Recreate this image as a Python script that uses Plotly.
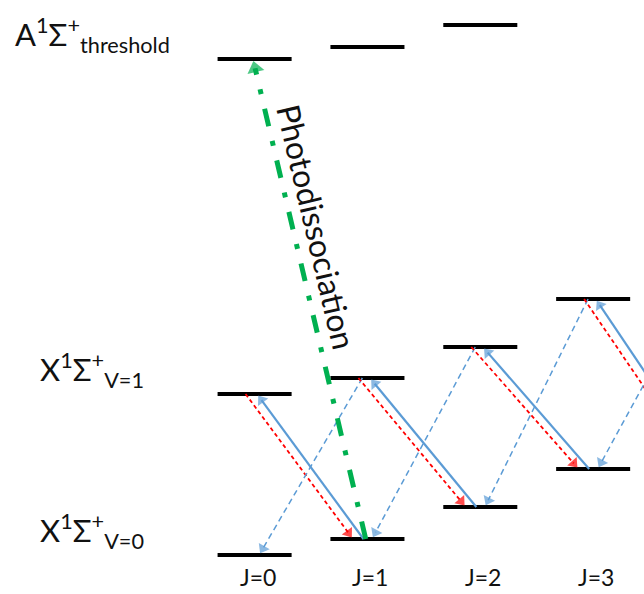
import math
import plotly.graph_objects as go

# ---------------- data ----------------
J_labels = ["J=0", "J=1", "J=2", "J=3"]
J_vals = [0, 1, 2, 3]
E_v0 = [0, 16, 48, 86]          # X1Σ+ v=0 rotational levels (arb. units)
E_v1 = [161, 177, 208, 256]     # X1Σ+ v=1 rotational levels
E_thr = [496, 508, 530]         # A1Σ+ threshold levels (J=0..2)
E_v0_J4 = 98                    # J=4 levels lie outside the view
E_v1_J4 = 275
state_labels = [
    "A<sup>1</sup>Σ<sup>+</sup><sub>threshold</sub>",
    "X<sup>1</sup>Σ<sup>+</sup><sub>V=1</sub>",
    "X<sup>1</sup>Σ<sup>+</sup><sub>V=0</sub>",
]
dissoc_label = "Photodissociation"

# ---------------- layout constants ----------------
W, H = 644, 594
XR = [-2.256, 3.4506]
YR = [-39, 555]
sx = W / (XR[1] - XR[0])
sy = H / (YR[1] - YR[0])
HALF = 0.328
FONT = "Lato"
TXT = "#111111"
BLUE = "#5B9BD5"
RED = "#FF0000"
GREEN = "#00B050"

fig = go.Figure()

# level bars
def bars(js, es):
    xs, ys = [], []
    for j, e in zip(js, es):
        xs += [j - HALF, j + HALF, None]
        ys += [e, e, None]
    fig.add_trace(go.Scatter(x=xs, y=ys, mode="lines",
                             line=dict(color="black", width=4),
                             hoverinfo="skip", showlegend=False))

bars(J_vals, E_v0)
bars(J_vals, E_v1)
bars(J_vals[:len(E_thr)], E_thr)

def arrow(x0, y0, x1, y1, color, width, dash, size):
    dxp = (x1 - x0) * sx
    dyp = (y1 - y0) * sy
    L = math.hypot(dxp, dyp)
    back = 2 + size / 2
    xm = x1 - (x1 - x0) * back / L
    ym = y1 - (y1 - y0) * back / L
    fig.add_trace(go.Scatter(
        x=[x0, xm], y=[y0, ym], mode="lines+markers",
        line=dict(color=color, width=width, dash=dash),
        marker=dict(symbol="triangle-up", size=[0, size], angleref="previous",
                    color=color, line=dict(width=0)),
        hoverinfo="skip", showlegend=False))

v0_all = E_v0 + [E_v0_J4]
v1_all = E_v1 + [E_v1_J4]
for j in range(4):
    # absorption (solid blue): v0,J+1 -> v1,J
    arrow(j + 1 - 0.035, v0_all[j + 1], j + 0.022, v1_all[j], BLUE, 2.2, "solid", 11)
    # emission (red dashed): v1,J -> v0,J+1
    arrow(j - 0.08, v1_all[j], j + 1 - 0.128, v0_all[j + 1], RED, 1.8, "4px,3px", 11)
    # emission (blue dashed): v1,J+1 -> v0,J
    arrow(j + 1 - 0.045, v1_all[j + 1], j + 0.04, v0_all[j], BLUE, 1.5, "6px,4px", 11)

# photodissociation arrow
gx0, gy0 = 1 - 0.015, E_v0[1]
gx1, gy1 = 0 - 0.015, E_thr[0]
arrow(gx0, gy0, gx1, gy1, GREEN, 5, "18px,15px,5px,15px", 15)

ang = math.degrees(math.atan2((gy1 - gy0) * sy, (gx0 - gx1) * sx))
t = 0.65
fig.add_annotation(x=gx0 + t * (gx1 - gx0), y=gy0 + t * (gy1 - gy0),
                   xref="x", yref="y", text=dissoc_label, showarrow=False,
                   textangle=ang, xshift=25,
                   font=dict(family=FONT, size=32, color=TXT))

# state labels
for lab, e, xp in zip(state_labels, [E_thr[0], E_v1[0], E_v0[0]], [13, 38, 38]):
    fig.add_annotation(x=xp / W, y=e, xref="paper", yref="y", text=lab,
                       showarrow=False, xanchor="left", yanchor="middle", yshift=24,
                       font=dict(family=FONT, size=31, color=TXT))

# J labels
for j, lab in zip(J_vals, J_labels):
    fig.add_annotation(x=j, y=0, xref="x", yref="paper", text=lab,
                       showarrow=False, xanchor="center", yanchor="bottom", xshift=3,
                       yshift=1, font=dict(family=FONT, size=23, color=TXT))

fig.update_layout(
    width=W, height=H, autosize=False,
    margin=dict(l=0, r=0, t=0, b=0),
    paper_bgcolor="white", plot_bgcolor="white",
    xaxis=dict(range=XR, visible=False, fixedrange=True),
    yaxis=dict(range=YR, visible=False, fixedrange=True),
)

fig.write_html("out.html", config={"displayModeBar": False},
               post_script="document.body.style.margin='0px';")
